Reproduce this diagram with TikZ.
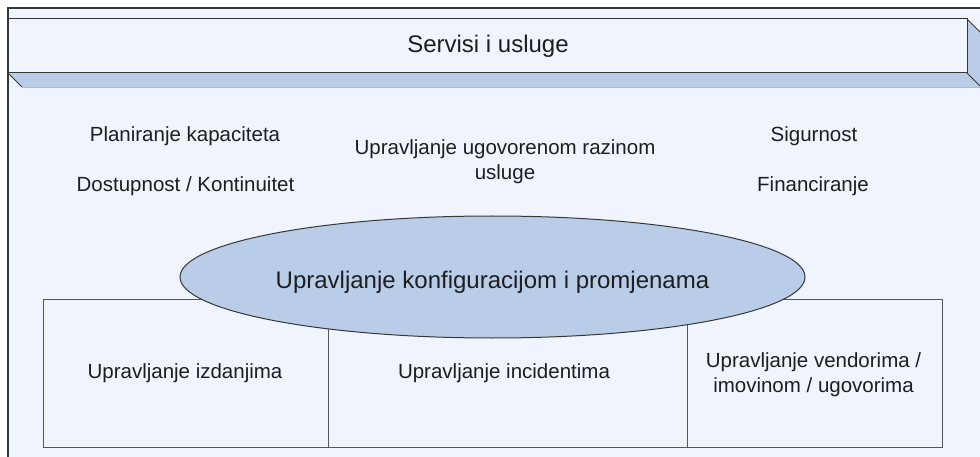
\documentclass[tikz,border=0pt]{standalone}
\usepackage{fontspec}
\setmainfont{Liberation Sans}
\usetikzlibrary{shapes.geometric}
\definecolor{framefill}{RGB}{240,245,253}
\definecolor{barblue}{RGB}{185,205,232}
\definecolor{lineDark}{RGB}{55,55,55}
\definecolor{lineGray}{RGB}{85,85,85}
\definecolor{txt}{RGB}{30,30,30}
\begin{document}
\begin{tikzpicture}[x=1pt,y=-1pt,
  small/.style={font=\fontsize{20.5}{25}\selectfont, inner sep=0pt, outer sep=0pt, text=txt, anchor=base},
  big/.style={font=\fontsize{24}{29}\selectfont, inner sep=0pt, outer sep=0pt, text=txt, anchor=base},
  pbox/.style={draw=lineGray, line width=1pt, fill=framefill, rectangle, inner sep=0pt, outer sep=0pt, anchor=north west, minimum height=148pt},
  edge3d/.style={draw=lineDark, line width=1pt},
]
\useasboundingbox (0,0) rectangle (980,457);
\clip (0,0) rectangle (980,457);
\fill[white] (0,0) rectangle (980,457);
% outer frame
\node[draw=lineDark, line width=1.2pt, fill=framefill, minimum width=1000pt, minimum height=480pt,
      anchor=north west, inner sep=0pt, outer sep=0pt] (frame) at (8,8) {};
% top 3D bar
\node[draw=lineDark, line width=1pt, fill=framefill, minimum width=959pt, minimum height=54pt,
      anchor=north west, inner sep=0pt, outer sep=0pt] (bar) at (8,19) {};
\fill[barblue] (bar.south west) -- (bar.south east) -- ++(14,14) -- ([shift={(14,14)}]bar.south west) -- cycle;
\fill[barblue] (bar.north east) -- ++(14,14) -- ++(0,54) -- (bar.south east) -- cycle;
\draw[gray!55, line width=0.8pt] ([shift={(14,14)}]bar.south west) -- ([shift={(14,14)}]bar.south east);
\draw[edge3d] (bar.south west) -- ++(14,14);
\draw[edge3d] (bar.north east) -- ++(14,14);
\draw[edge3d] (bar.south east) -- ++(14,14);
\draw[edge3d] (bar.north east) -- (bar.south east);
\draw[edge3d] (bar.south west) -- (bar.south east);
\node[big] (title) at (488,53) {Servisi i usluge};
% upper texts
\node[small] (kap) at (185,142) {Planiranje kapaciteta};
\node[small] (dost) at (185.5,192) {Dostupnost / Kontinuitet};
\node[small] (sla) at (505,155) {\begin{tabular}[t]{@{}c@{}}Upravljanje ugovorenom razinom\\usluge\end{tabular}};
\node[small] (sig) at (814,142) {Sigurnost};
\node[small] (fin) at (813,192) {Financiranje};
% lower boxes
\node[pbox, minimum width=285pt] (rel) at (43,299) {};
\node[pbox, minimum width=359pt] (inc) at (328,299) {};
\node[pbox, minimum width=255pt] (ven) at (687,299) {};
% ellipse
\node[ellipse, draw=lineDark, line width=1pt, fill=barblue, minimum width=625pt, minimum height=122pt,
      inner sep=0pt, outer sep=0pt] (cfg) at (492.5,277) {};
\node[big] (cfgtxt) at (492.5,288) {Upravljanje konfiguracijom i promjenama};
% box texts
\node[small] (reltxt) at (185,378) {Upravljanje izdanjima};
\node[small] (inctxt) at (504,378) {Upravljanje incidentima};
\node[small] (ventxt) at (813.5,367) {\begin{tabular}[t]{@{}c@{}}Upravljanje vendorima /\\imovinom / ugovorima\end{tabular}};
\end{tikzpicture}
\end{document}
